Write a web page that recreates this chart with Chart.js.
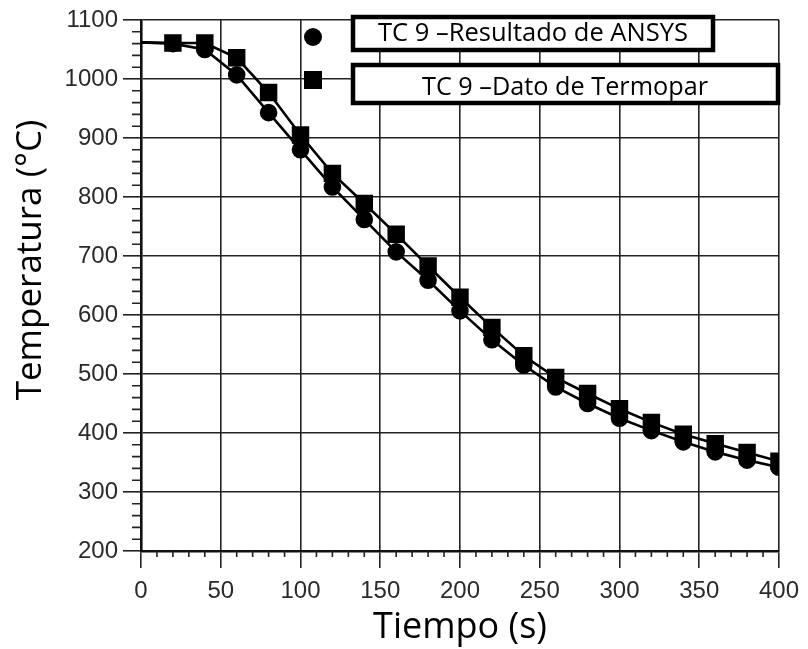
<!DOCTYPE html>
<html>
<head>
<meta charset="utf-8">
<script src="https://cdn.jsdelivr.net/npm/chart.js@4/dist/chart.umd.min.js"></script>
<style>
  html, body { margin: 0; padding: 0; background: #ffffff; }
  #wrap { width: 808px; height: 649px; }
</style>
</head>
<body>
<div id="wrap"><canvas id="c" width="808" height="649"></canvas></div>
<script>
// Time axis (s) and measured temperatures (°C)
const tiempo = [0, 20, 40, 60, 80, 100, 120, 140, 160, 180, 200, 220, 240, 260, 280, 300, 320, 340, 360, 380, 400];
const ansys = [1062, 1060, 1050, 1007, 943, 880, 817, 762, 707, 659, 607, 558, 515, 478, 450, 425, 404, 385, 368, 354, 342];
const termopar = [1062, 1061, 1061, 1036, 977, 905, 840, 789, 737, 683, 630, 579, 531, 494, 467, 441, 418, 398, 382, 367, 352];

const xTicks = [0, 50, 100, 150, 200, 250, 300, 350, 400];
const yTicks = [200, 300, 400, 500, 600, 700, 800, 900, 1000, 1100];

const serieAnsys = 'TC 9 \u2013Resultado de ANSYS';
const serieTermopar = 'TC 9 \u2013Dato de Termopar';
const tituloX = 'Tiempo (s)';
const tituloY = 'Temperatura (\u00B0C)';

const toPoints = (ys) => tiempo.map((t, i) => ({ x: t, y: ys[i] }));
const hideFirst = (r) => (ctx) => (ctx.dataIndex === 0 ? 0 : r);

// Minor tick marks along both axes
const minorTicks = {
  id: 'minorTicks',
  afterDraw(chart) {
    const { ctx, chartArea, scales } = chart;
    ctx.save();
    ctx.strokeStyle = '#222';
    ctx.lineWidth = 1.6;
    ctx.beginPath();
    for (let v = 200; v <= 1100; v += 20) {
      if (v % 100 === 0) continue;
      const y = scales.y.getPixelForValue(v);
      ctx.moveTo(chartArea.left - 9, y);
      ctx.lineTo(chartArea.left, y);
    }
    for (let v = 0; v <= 400; v += 10) {
      if (v % 50 === 0) continue;
      const x = scales.x.getPixelForValue(v);
      ctx.moveTo(x, chartArea.bottom);
      ctx.lineTo(x, chartArea.bottom + 6);
    }
    ctx.stroke();
    ctx.restore();
  }
};

// Rotated y-axis title
const yTitle = {
  id: 'yTitle',
  afterDraw(chart) {
    const { ctx } = chart;
    ctx.save();
    ctx.fillStyle = '#000';
    ctx.font = '35px "Open Sans"';
    ctx.textAlign = 'center';
    ctx.textBaseline = 'middle';
    ctx.translate(31, 260);
    ctx.rotate(-Math.PI / 2);
    ctx.fillText(tituloY, 0, 0);
    ctx.restore();
  }
};

// Boxed legend entries with their markers
const boxedLegend = {
  id: 'boxedLegend',
  afterDraw(chart) {
    const { ctx } = chart;
    const fitFont = (text, width, base) => {
      ctx.font = base + 'px "Open Sans"';
      const w = ctx.measureText(text).width;
      return (base * width / w).toFixed(2) + 'px "Open Sans"';
    };
    const entries = [
      { text: serieAnsys, box: [353, 17, 360, 33], tx: 378, ty: 41, tw: 310, marker: 'circle', my: 37 },
      { text: serieTermopar, box: [353, 65, 425, 38], tx: 422, ty: 95, tw: 286, marker: 'square', my: 80 }
    ];
    ctx.save();
    entries.forEach((e) => {
      ctx.fillStyle = '#000';
      if (e.marker === 'circle') {
        ctx.beginPath();
        ctx.arc(313, e.my, 9, 0, Math.PI * 2);
        ctx.fill();
      } else {
        ctx.fillRect(304, e.my - 9, 18, 18);
      }
      const [bx, by, bw, bh] = e.box;
      ctx.fillStyle = '#fff';
      ctx.fillRect(bx, by, bw, bh);
      ctx.lineWidth = 4.5;
      ctx.strokeStyle = '#000';
      ctx.strokeRect(bx, by, bw, bh);
      ctx.fillStyle = '#000';
      ctx.font = fitFont(e.text, e.tw, 25);
      ctx.textAlign = 'left';
      ctx.textBaseline = 'alphabetic';
      ctx.fillText(e.text, e.tx, e.ty);
    });
    ctx.restore();
  }
};

new Chart(document.getElementById('c'), {
  type: 'line',
  data: {
    datasets: [
      {
        label: serieAnsys,
        data: toPoints(ansys),
        borderColor: '#000',
        backgroundColor: '#000',
        borderWidth: 2.6,
        pointStyle: 'circle',
        pointRadius: hideFirst(7.5),
        pointHoverRadius: hideFirst(7.5),
        tension: 0
      },
      {
        label: serieTermopar,
        data: toPoints(termopar),
        borderColor: '#000',
        backgroundColor: '#000',
        borderWidth: 2.6,
        pointStyle: 'rect',
        pointRadius: hideFirst(10.5),
        pointHoverRadius: hideFirst(10.5),
        tension: 0
      }
    ]
  },
  options: {
    responsive: false,
    animation: false,
    events: [],
    layout: { padding: { top: 20, right: 28, left: 0, bottom: 0 } },
    plugins: {
      legend: { display: false },
      tooltip: { enabled: false }
    },
    scales: {
      x: {
        type: 'linear',
        min: 0,
        max: 400,
        afterBuildTicks: (s) => { s.ticks = xTicks.map((v) => ({ value: v })); },
        afterFit: (s) => { s.height = 98; },
        border: { color: '#111', width: 2.6 },
        grid: { color: '#222', lineWidth: 1.6, tickLength: 17, tickColor: '#222' },
        ticks: {
          color: '#2a2a2a',
          font: { family: '"Liberation Sans"', size: 24 },
          padding: 9,
          maxRotation: 0,
          callback: (v) => String(v)
        },
        title: {
          display: true,
          text: tituloX,
          color: '#000',
          font: { family: '"Open Sans"', size: 36 },
          padding: { top: 0, bottom: 0 }
        }
      },
      y: {
        type: 'linear',
        min: 200,
        max: 1100,
        afterBuildTicks: (s) => { s.ticks = yTicks.map((v) => ({ value: v })); },
        afterFit: (s) => { s.width = 141; },
        border: { color: '#111', width: 2.6 },
        grid: { color: '#222', lineWidth: 1.6, tickLength: 18, tickColor: '#222' },
        ticks: {
          color: '#2a2a2a',
          font: { family: '"Liberation Sans"', size: 24 },
          padding: 5,
          callback: (v) => String(v)
        }
      }
    }
  },
  plugins: [minorTicks, yTitle, boxedLegend]
});
</script>
</body>
</html>
